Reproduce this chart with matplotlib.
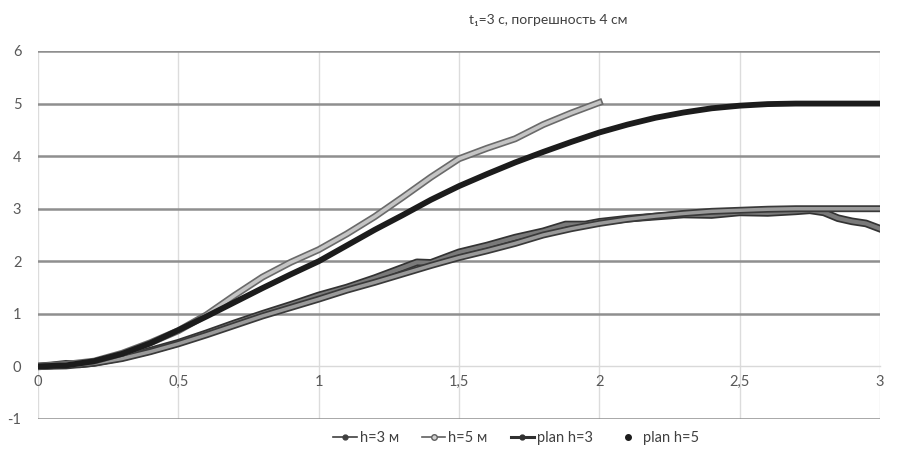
import matplotlib
matplotlib.use('Agg')
import matplotlib.pyplot as plt
import matplotlib.patheffects as pe
from matplotlib.lines import Line2D

plt.rcParams['font.family'] = ['Lato', 'DejaVu Sans']
plt.rcParams['axes.unicode_minus'] = False

title = 't\u2081=3 с, погрешность 4 см'
x_ticks = [0, 0.5, 1, 1.5, 2, 2.5, 3]
x_labels = ['0', '0,5', '1', '1,5', '2', '2,5', '3']
y_ticks = [-1, 0, 1, 2, 3, 4, 5, 6]

# plan h=5
t_plan5 = [0, 0.1, 0.2, 0.3, 0.4, 0.5, 0.6, 0.7, 0.8, 0.9, 1.0, 1.1, 1.2, 1.3, 1.4, 1.5,
           1.6, 1.7, 1.8, 1.9, 2.0, 2.1, 2.2, 2.3, 2.4, 2.5, 2.6, 2.7, 2.8, 2.9, 3.0]
y_plan5 = [0, 0.02, 0.10, 0.24, 0.44, 0.69, 0.95, 1.22, 1.49, 1.75, 2.00, 2.30, 2.60, 2.88, 3.17, 3.43,
           3.66, 3.88, 4.08, 4.27, 4.45, 4.60, 4.73, 4.83, 4.91, 4.96, 4.99, 5.00, 5.00, 5.00, 5.00]

# h=5 м (measured)
t_h5 = [0, 0.05, 0.1, 0.2, 0.3, 0.4, 0.5, 0.6, 0.7, 0.8, 0.9, 1.0, 1.1, 1.2, 1.3, 1.4, 1.5,
        1.6, 1.7, 1.8, 1.9, 2.0]
y_h5 = [0, 0.02, 0.04, 0.10, 0.25, 0.45, 0.68, 0.98, 1.35, 1.70, 1.98, 2.22, 2.52, 2.85, 3.22, 3.60, 3.95,
        4.15, 4.33, 4.60, 4.82, 5.02]

# plan h=3
t_plan3 = [0, 0.1, 0.2, 0.3, 0.4, 0.5, 0.6, 0.7, 0.8, 0.9, 1.0, 1.1, 1.2, 1.3, 1.4, 1.5,
           1.6, 1.7, 1.8, 1.9, 2.0, 2.1, 2.2, 2.3, 2.4, 2.5, 2.6, 2.7, 2.8, 2.9, 3.0]
y_plan3 = [0, 0.01, 0.06, 0.15, 0.28, 0.43, 0.60, 0.78, 0.96, 1.12, 1.28, 1.45, 1.60, 1.76, 1.92, 2.07,
           2.20, 2.34, 2.50, 2.62, 2.72, 2.80, 2.86, 2.91, 2.95, 2.97, 2.99, 3.00, 3.00, 3.00, 3.00]

# h=3 м (measured)
t_h3 = [0, 0.05, 0.1, 0.15, 0.2, 0.3, 0.4, 0.5, 0.6, 0.7, 0.8, 0.9, 1.0, 1.1, 1.2, 1.3, 1.35, 1.4,
        1.5, 1.6, 1.7, 1.8, 1.88, 1.95, 2.0, 2.1, 2.2, 2.3, 2.4, 2.5, 2.6, 2.7, 2.75, 2.8, 2.85,
        2.9, 2.95, 3.0]
y_h3 = [0, 0.02, 0.05, 0.04, 0.07, 0.17, 0.30, 0.45, 0.63, 0.82, 1.00, 1.17, 1.35, 1.50, 1.68, 1.88, 1.98, 1.97,
        2.17, 2.30, 2.45, 2.57, 2.70, 2.70, 2.75, 2.81, 2.85, 2.89, 2.88, 2.93, 2.92, 2.95, 2.97, 2.93, 2.82,
        2.76, 2.72, 2.62]

fig = plt.figure(figsize=(9.01, 4.59), dpi=100)
ax = fig.add_axes([38 / 901, 1 - 419 / 459, (880 - 38) / 901, (419 - 51) / 459])
ax.set_xlim(0, 3)
ax.set_ylim(-1, 6)

for s in ['top', 'right', 'left']:
    ax.spines[s].set_visible(False)
ax.spines['bottom'].set_position(('data', 0))
ax.spines['bottom'].set_color('#d9d9d9')
ax.spines['bottom'].set_linewidth(1.0)
ax.spines['bottom'].set_zorder(1)

for v in x_ticks:
    ax.axvline(v, color='#dcdcdc', lw=1.0, zorder=0)
for v in y_ticks:
    if v != 0:
        ax.axhline(v, color='#8f8f8f', lw=1.8, zorder=0.5)

ax.set_xticks(x_ticks)
ax.set_xticklabels(x_labels)
ax.set_yticks(y_ticks)
ax.tick_params(axis='both', length=0, labelsize=10.5, colors='#595959')
ax.tick_params(axis='x', pad=6)
ax.tick_params(axis='y', pad=12)

stroke = lambda c, w: [pe.Stroke(linewidth=w, foreground=c), pe.Normal()]

# h=3 measured
ax.plot(t_h3, y_h3, color='#7a7a7a', lw=3.0, zorder=3,
        path_effects=stroke('#333333', 5.5))
# plan h=3
ax.plot(t_plan3, y_plan3, color='#9a9a9a', lw=2.5, zorder=3,
        path_effects=stroke('#3a3a3a', 5.0))
# h=5 measured
ax.plot(t_h5, y_h5, color='#c4c4c4', lw=2.6, zorder=4,
        path_effects=stroke('#6a6a6a', 5.0))
# plan h=5
ax.plot(t_plan5, y_plan5, color='#1c1c1c', lw=4.2, zorder=5, solid_capstyle='round')

fig.text(548 / 901, 1 - 20 / 459, title, ha='center', va='center', fontsize=10, color='#404040')

handles = [
    Line2D([], [], color='#404040', lw=1.2, marker='o', ms=3.5, mfc='#404040', mec='#404040'),
    Line2D([], [], color='#606060', lw=1.2, marker='o', ms=4, mfc='#d0d0d0', mec='#606060'),
    Line2D([], [], color='#303030', lw=2.2, marker='o', ms=3.5, mfc='#303030', mec='#303030'),
    Line2D([], [], color='none', lw=0, marker='o', ms=4, mfc='#1c1c1c', mec='#1c1c1c'),
]
labels = ['h=3 м', 'h=5 м', 'plan h=3', 'plan h=5']
leg = fig.legend(handles, labels, loc='center', bbox_to_anchor=(516 / 901, 1 - 438 / 459), ncol=4,
                 frameon=False, fontsize=10.5, handlelength=1.6, handletextpad=0.2, columnspacing=1.6)
for t in leg.get_texts():
    t.set_color('#404040')

fig.savefig('out.png', dpi=100)
